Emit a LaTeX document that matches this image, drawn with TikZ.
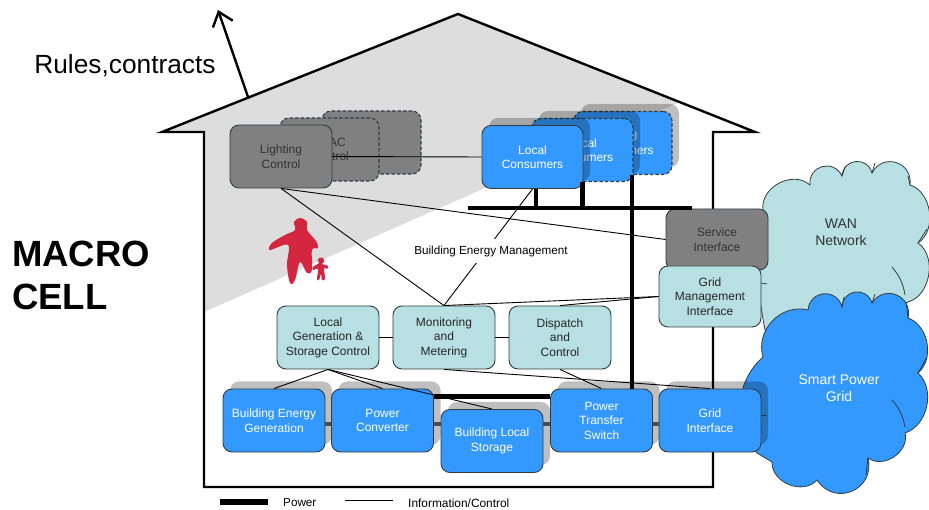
\documentclass[tikz,border=0pt]{standalone}
\usepackage{fontspec}
\setmainfont{Liberation Sans}
\usetikzlibrary{arrows.meta,shadows}
\definecolor{custblue}{RGB}{51, 153, 255}
\definecolor{custteal}{RGB}{184, 223, 226}
\definecolor{custgrey}{RGB}{128, 128, 128}
\definecolor{custwedge}{RGB}{221, 221, 221}
\definecolor{custred}{RGB}{212, 38, 62}
\definecolor{custedge}{RGB}{50, 60, 65}
\tikzset{
  unitbox/.style={draw=custedge, line width=0.9pt, rounded corners=9pt, minimum width=102pt, minimum height=63pt,
    inner sep=0pt, align=center, font=\fontsize{12}{14.5}\selectfont},
  bluebox/.style={unitbox, fill=custblue, text=white},
  tealbox/.style={unitbox, fill=custteal, text=black!85},
  greybox/.style={unitbox, fill=custgrey, text=black!80},
  shade/.style={drop shadow={shadow xshift=7pt, shadow yshift=7.5pt, opacity=0.25, fill=black}},
  ghost/.style={line width=1.1pt, dash pattern=on 3.5pt off 2pt},
  power/.style={line width=4.5pt, black},
  powerlink/.style={line width=4pt, black!70},
  info/.style={line width=0.9pt, black},
  cloudline/.style={line width=0.8pt, draw=custedge},
  lobe/.style={bend left=80, looseness=1.5},
  wall/.style={line width=2.4pt, black, line cap=butt}
}
\begin{document}
\begin{tikzpicture}[x=1pt,y=-1pt]
\useasboundingbox (0,0) rectangle (929,510);
\fill [custwedge] (165,132) -- (458,14) -- (680,102) -- (204,312) -- (204,132) -- cycle;
\draw [wall] (204,487) -- (204,132) -- (162,132) -- (458,14) -- (755,132) -- (713,132) -- (713,487) -- cycle;

% the two clouds
\draw [fill=custteal, cloudline] (765,330) to[bend left=10] (763,210) to[bend left=70, looseness=1.1] (810,185) to[lobe] (842,176)
  to[lobe] (872,173) to[lobe] (910,185) to[bend left=65] (918,243) to[bend left=65] (908,302) -- (800,335) -- cycle;
\draw [cloudline] (842,176) -- (845,167) (872,173) -- (875,163) (910,185) -- (908,176) (918,243) -- (927,229)
  (892,267) to[bend left=15] (905,295) (761,283) -- (767,284);
\node (wan) at (841,232) [align=center, font=\fontsize{14}{17}\selectfont, text=black!80] {WAN\\Network};
\draw [fill=custblue, cloudline] (763,357) to[bend left=60, looseness=1.1] (808,310) to[lobe] (842,307) to[lobe] (872,303)
  to[lobe] (908,318) to[bend left=60] (918,373) to[bend left=60] (905,433) to[bend left=70, looseness=1.1] (868,458)
  to[lobe] (817,480) to[bend left=70, looseness=1.1] (772,462) -- (757,453) to[bend left=45] (763,357) -- cycle;
\draw [cloudline] (842,307) -- (844,297) (872,303) -- (875,294) (908,318) -- (906,302) (918,373) -- (927,357)
  (892,400) to[bend left=15] (905,427) (868,458) -- (866,475) (761,415) -- (767,416);
\node (smart) at (839,388) [align=center, font=\fontsize{14}{17}\selectfont, text=white] {Smart Power\\Grid};

% the stacked controls and consumers
\node (hvacB) at (371.5,142.5) [greybox, ghost, minimum width=99pt] {};
\node (hvacA) at (329.5,149.5) [greybox, ghost, minimum width=99pt] {HVAC\\Control};
\node (lighting) at (281,156.5) [greybox] {Lighting\\Control};
\node (consumerC) at (623,143) [bluebox, ghost, shade, minimum width=98pt] {Local\\Consumers};
\node (consumerB) at (582.5,150) [bluebox, ghost, shade, minimum width=101pt] {Local\\Consumers};
\node (consumerA) at (532.5,157) [bluebox, shade, minimum width=101pt] {Local\\Consumers};

\node (service) at (717,239.5) [greybox, minimum height=61pt] {Service\\Interface};
\node (gridmgmt) at (710,296.5) [tealbox, minimum height=61pt] {Grid\\Management\\Interface};

\node (localgen) at (328,337.5) [tealbox] {Local\\Generation \&\\Storage Control};
\node (monitor) at (444,337.5) [tealbox] {Monitoring\\and\\Metering};
\node (dispatch) at (560,337.5) [tealbox] {Dispatch\\and\\Control};

\node (bldgen) at (274,420.5) [bluebox, shade] {Building Energy\\Generation};
\node (converter) at (382.5,420.5) [bluebox, shade] {Power\\Converter};
\node (switch) at (601.5,420.5) [bluebox, shade] {Power\\Transfer\\Switch};
\node (gridif) at (710,420.5) [bluebox, shade] {Grid\\Interface};
\node (storage) at (492,441) [bluebox, shade] {Building Local\\Storage};

% power
\coordinate (busL) at (468,208);
\coordinate (busR) at (692,208);
\draw [power] (busL) -- (busR);
\draw [power] ([xshift=3.5pt]consumerA.south) -- ([xshift=3.5pt]consumerA.south |- busL);
\draw [power] (consumerB.south) -- (consumerB.south |- busL);
\draw [power] ([xshift=9pt]consumerC.south) -- ([xshift=9pt]consumerC.south |- switch.north);
\draw [power] ([yshift=24pt]converter.east) -- ([yshift=24pt]switch.west);
\draw [powerlink] ([yshift=-3.5pt]bldgen.east) -- ([yshift=-3.5pt]converter.west);
\draw [powerlink] ([yshift=-3.5pt]converter.east) -- ([yshift=-3.5pt]converter.east -| storage.west);
\draw [powerlink] ([yshift=-3.5pt]switch.west -| storage.east) -- ([yshift=-3.5pt]switch.west);
\draw [powerlink] ([yshift=-3.5pt]switch.east) -- ([yshift=-3.5pt]gridif.west);

% information and control
\draw [info] (lighting.east) -- (consumerA.west);
\draw [info] (lighting.south) -- (monitor.north);
\draw [info] (lighting.south) -- (service.west);
\draw [info] (consumerA.south) -- (monitor.north);
\draw [info] (monitor.north) -- (gridmgmt.west);
\draw [info] (dispatch.north) -- (gridmgmt.west);
\draw [info] (localgen.east) -- (monitor.west);
\draw [info] (monitor.east) -- (dispatch.west);
\draw [info] (localgen.south) -- (bldgen.north);
\draw [info] (localgen.south) -- (converter.north);
\draw [info] (localgen.south) -- (storage.north);
\draw [info] (monitor.south) -- (gridif.north);
\draw [info] (dispatch.south) -- (switch.north);
\node (bem) at (491,251) [fill=white, inner sep=0pt, minimum height=24pt, font=\fontsize{11.7}{14.5}\selectfont] {Building Energy Management};

% the two figures
\fill [custred] plot [smooth cycle, tension=0.6] coordinates {(300,218) (294,222) (295,230) (285,235) (272,243) (270,250) (288,245)
  (287,265) (290,283) (295,280) (300,262) (307,273) (312,270) (312,250) (318,248) (316,241) (307,230) (307,222)};
\fill [custred] plot [smooth cycle, tension=0.5] coordinates {(319,258) (323,258) (324,262) (322,264) (328,266) (327,269) (324,268)
  (325,279) (322,280) (321,274) (319,280) (317,279) (318,269) (313,270) (313,267) (319,263) (318,261)};

% arrow and texts
\coordinate (roofpt) at (248,97);
\coordinate (arrowtip) at (218,10);
\draw [-{Straight Barb[length=13pt,width=21pt]}, line width=2.4pt] (roofpt) -- (arrowtip);
\node (rules) at (125,66) [font=\fontsize{26.3}{30}\selectfont] {Rules,contracts};
\node (macro) at (12,275) [anchor=west, inner sep=0pt, align=left, font=\fontsize{36.5}{43}\bfseries\selectfont] {MACRO\\CELL};

% legend
\coordinate (powerA) at (220,502);
\coordinate (powerB) at (268,502);
\coordinate (infoA) at (345,500.5);
\coordinate (infoB) at (393,500.5);
\draw [line width=5.5pt] (powerA) -- (powerB);
\draw [info] (infoA) -- (infoB);
\node (powerlbl) at (283,503) [anchor=west, inner sep=0pt, font=\fontsize{11.7}{14.5}\selectfont] {Power};
\node (infolbl) at (408,503) [anchor=west, inner sep=0pt, font=\fontsize{11.9}{14.5}\selectfont] {Information/Control};
\end{tikzpicture}
\end{document}
